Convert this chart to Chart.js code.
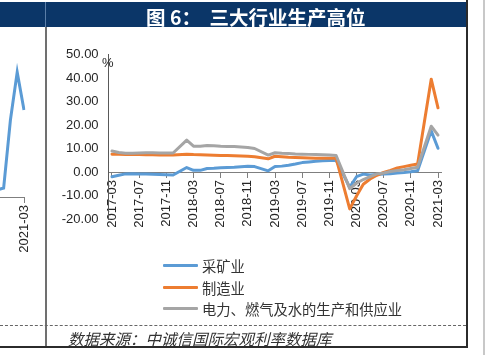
<!DOCTYPE html>
<html><head><meta charset="utf-8">
<script src="https://cdn.jsdelivr.net/npm/chart.js@4/dist/chart.umd.min.js"></script>
<style>
html,body{margin:0;padding:0;background:#fff;}
body{width:489px;height:355px;position:relative;overflow:hidden;font-family:"Noto Sans CJK SC",sans-serif;}
canvas{position:absolute;}
#left{left:-70px;top:0;}
#main{left:0;top:0;}
.ln{position:absolute;}
#hdr{position:absolute;left:0;top:2px;width:467px;height:25px;background:#0b3668;}
.tt{position:absolute;top:6px;height:22px;line-height:22px;color:#fff;font-size:19.5px;font-weight:700;white-space:nowrap;}
#pct{position:absolute;left:102px;top:55px;font-family:"Liberation Sans",sans-serif;font-size:13px;color:#262626;line-height:16px;}
#legend{position:absolute;left:163px;top:255px;}
.lg{position:relative;height:21.7px;}
.lg i{position:absolute;left:0;top:9px;width:35px;height:3px;border-radius:1px;}
.lg span{position:absolute;left:39px;top:0;line-height:21px;font-size:14.3px;color:#333;white-space:nowrap;}
#src{position:absolute;left:68px;top:328px;font-size:15.5px;line-height:20px;font-style:italic;color:#333;white-space:nowrap;}
</style></head>
<body>
<canvas id="left" width="115" height="355" style="width:115px;height:355px"></canvas>
<canvas id="main" width="489" height="355" style="width:489px;height:355px"></canvas>
<div id="hdr"></div>
<div class="tt" style="left:146px">图 6：</div>
<div class="tt" style="left:209.5px">三大行业生产高位</div>
<div class="ln" style="left:45px;top:2px;width:1px;height:25px;background:#5a7ea8"></div>
<div class="ln" style="left:45px;top:27px;width:2px;height:320px;background:#707070"></div>
<div class="ln" style="left:466px;top:0;width:2px;height:348px;background:#2b2b2b"></div>
<div class="ln" style="left:0;top:346px;width:468px;height:2px;background:#2b2b2b"></div>
<div class="ln" style="left:483px;top:0;width:2px;height:355px;background:#c8c8c8"></div>
<div class="ln" style="left:0;top:325px;width:466px;height:0;border-top:1px dashed #666"></div>
<div id="pct">%</div>
<div id="legend"></div>
<div id="src">数据来源：中诚信国际宏观利率数据库</div>
<script>
// ---- data ----
const months = ['2017-03','2017-04','2017-05','2017-06','2017-07','2017-08','2017-09','2017-10','2017-11','2017-12',
  '2018-01','2018-02','2018-03','2018-04','2018-05','2018-06','2018-07','2018-08','2018-09','2018-10','2018-11','2018-12',
  '2019-01','2019-02','2019-03','2019-04','2019-05','2019-06','2019-07','2019-08','2019-09','2019-10','2019-11','2019-12',
  '2020-01','2020-02','2020-03','2020-04','2020-05','2020-06','2020-07','2020-08','2020-09','2020-10','2020-11','2020-12',
  '2021-01','2021-02','2021-03'];
const mining = [-2.0,-1.4,-0.8,-0.7,-0.8,-0.9,-1.0,-1.1,-1.2,-1.3,
  null,1.9,0.7,0.7,1.5,1.6,1.8,1.9,2.0,2.2,2.4,2.3,
  null,0.5,2.3,2.5,2.9,3.4,4.0,4.3,4.6,4.8,4.9,5.0,
  null,-6.5,-2.0,-0.9,-1.3,-1.1,-0.9,-0.7,-0.4,-0.2,0.1,0.5,
  null,17.5,10.1];
const manufacturing = [7.6,7.5,7.4,7.4,7.4,7.3,7.3,7.2,7.2,7.2,
  null,7.6,7.4,7.3,7.2,7.1,7.0,7.0,6.9,6.8,6.7,6.5,
  null,5.6,6.7,6.5,6.3,6.2,6.1,6.0,5.9,5.9,5.8,5.8,
  null,-15.7,-10.2,-5.2,-3.0,-1.4,-0.2,0.7,1.7,2.3,2.9,3.4,
  null,39.5,27.3];
const utilities = [8.9,8.3,8.0,8.0,8.1,8.2,8.2,8.1,8.1,8.1,
  null,13.6,11.0,11.0,11.3,11.2,11.0,10.9,10.8,10.6,10.4,10.0,
  null,7.2,8.2,8.0,7.9,7.7,7.6,7.5,7.4,7.3,7.2,7.0,
  null,-7.1,-4.8,-3.2,-2.0,-0.8,-0.4,0.2,0.6,1.0,1.5,2.0,
  null,19.5,15.7];
const seriesNames = ['采矿业','制造业','电力、燃气及水的生产和供应业'];
const seriesColors = ['#5B9BD5','#ED7D31','#A5A5A5'];
const yMin = -20, yMax = 50, yStep = 10;
// previous (cut-off) figure on the left edge
const prevMonths = ['2020-03','2020-04','2020-05','2020-06','2020-07','2020-08','2020-09','2020-10','2020-11','2020-12','2021-01','2021-02','2021-03'];
const prevValues = [null,null,null,null,null,null,null,null,2.5,3.2,27.5,44.6,31.1];

const tickFont = {family:'"Liberation Sans", Arial, sans-serif', size:13};

const main = new Chart(document.getElementById('main'), {
  type:'line',
  data:{labels:months, datasets:[
    {label:seriesNames[0], data:mining, borderColor:seriesColors[0], backgroundColor:seriesColors[0], order:3},
    {label:seriesNames[1], data:manufacturing, borderColor:seriesColors[1], backgroundColor:seriesColors[1], order:2},
    {label:seriesNames[2], data:utilities, borderColor:seriesColors[2], backgroundColor:seriesColors[2], order:1}
  ]},
  options:{
    responsive:false, animation:false, spanGaps:true,
    layout:{padding:{left:46, top:54.5, right:47.6, bottom:136}},
    elements:{point:{radius:0}, line:{borderWidth:3, tension:0, borderJoinStyle:'round', borderCapStyle:'round'}},
    plugins:{legend:{display:false}, tooltip:{enabled:false}},
    scales:{
      x:{type:'category', offset:true, position:{y:0},
        grid:{drawOnChartArea:false, drawTicks:true, tickLength:5, color:'#7f7f7f', lineWidth:1},
        border:{display:true, color:'#7f7f7f', width:1},
        ticks:{autoSkip:false, maxRotation:90, minRotation:90, padding:3, color:'#262626', font:tickFont,
          callback:(v,i)=> i%4===0 ? months[i] : null}},
      y:{min:yMin, max:yMax, afterFit:s=>{s.width=62.6;},
        grid:{drawOnChartArea:false, drawTicks:false},
        border:{display:true, color:'#595959', width:1},
        ticks:{stepSize:yStep, padding:10, color:'#262626', font:tickFont, callback:v=>Number(v).toFixed(2)}}
    }
  }
});

new Chart(document.getElementById('left'), {
  type:'line',
  data:{labels:prevMonths, datasets:[{data:prevValues, borderColor:'#5B9BD5', borderWidth:3, pointRadius:0, tension:0}]},
  options:{
    responsive:false, animation:false, spanGaps:true,
    layout:{padding:{left:12.5, top:57, right:21, bottom:158}},
    plugins:{legend:{display:false}, tooltip:{enabled:false}},
    scales:{
      x:{offset:false, position:{y:0},
        grid:{drawOnChartArea:false, drawTicks:true, tickLength:5, color:'#7f7f7f'},
        border:{display:true, color:'#7f7f7f', width:1},
        ticks:{autoSkip:false, maxRotation:90, minRotation:90, padding:3, color:'#262626', font:tickFont,
          callback:(v,i)=> i%4===0 ? prevMonths[i] : null}},
      y:{display:false, min:0, max:50}
    }
  }
});

// legend built from the chart's datasets
const lg = document.getElementById('legend');
main.data.datasets.forEach(ds=>{
  const row = document.createElement('div'); row.className='lg';
  const sw = document.createElement('i'); sw.style.background = ds.borderColor;
  const tx = document.createElement('span'); tx.textContent = ds.label;
  row.appendChild(sw); row.appendChild(tx); lg.appendChild(row);
});
</script>
</body></html>
